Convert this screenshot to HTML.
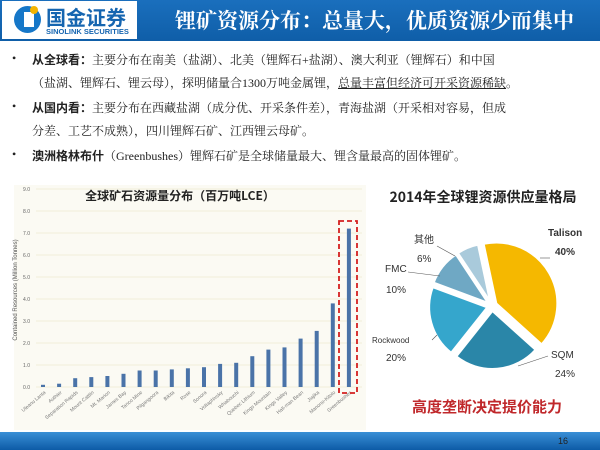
<!DOCTYPE html>
<html><head><meta charset="utf-8"><style>
body{margin:0;width:600px;height:450px;overflow:hidden;background:#fff;font-family:"Liberation Sans","Noto Sans CJK SC",sans-serif;position:relative}
.hdr{position:absolute;left:0;top:0;width:600px;height:41px;background:linear-gradient(#1a6fbd,#0f5ea8)}
.logo{position:absolute;left:2px;top:1px;width:135px;height:38px;background:#fff}
.t{position:absolute;font-family:"Liberation Serif","Noto Serif CJK SC",serif;font-size:12px;color:#222;white-space:nowrap}
.t b{font-family:"Noto Sans CJK SC",sans-serif}
</style></head><body>
<div class="hdr"></div>
<div class="logo">
<div style="position:absolute;left:12px;top:5px;width:27px;height:27px;border-radius:50%;background:#1677c8"></div>
<div style="position:absolute;left:22px;top:11px;width:10px;height:15px;background:#fff"></div>
<div style="position:absolute;left:28px;top:5px;width:8px;height:8px;border-radius:50%;background:#f4b400"></div>
<div style="position:absolute;left:44px;top:1px;font:bold 20px 'Noto Sans CJK SC',sans-serif;color:#1565b0">国金证券</div>
<div style="position:absolute;left:44px;top:26px;font:bold 7.5px 'Liberation Sans',sans-serif;color:#1565b0">SINOLINK SECURITIES</div>
</div>
<div style="position:absolute;left:175px;top:5px;font:bold 21px 'Noto Serif CJK SC',serif;color:#fff;white-space:nowrap">锂矿资源分布：总量大，优质资源少而集中</div>
<div class="t" style="left:12px;top:51px">•</div>
<div class="t" style="left:32px;top:51px"><b>从全球看：</b>主要分布在南美（盐湖）、北美（锂辉石+盐湖）、澳大利亚（锂辉石）和中国</div>
<div class="t" style="left:32px;top:74px">（盐湖、锂辉石、锂云母），探明储量合1300万吨金属锂，<u>总量丰富但经济可开采资源稀缺</u>。</div>
<div class="t" style="left:12px;top:99px">•</div>
<div class="t" style="left:32px;top:99px"><b>从国内看：</b>主要分布在西藏盐湖（成分优、开采条件差），青海盐湖（开采相对容易，但成</div>
<div class="t" style="left:32px;top:122px">分差、工艺不成熟），四川锂辉石矿、江西锂云母矿。</div>
<div class="t" style="left:12px;top:147px">•</div>
<div class="t" style="left:32px;top:147px"><b>澳洲格林布什</b>（Greenbushes）锂辉石矿是全球储量最大、锂含量最高的固体锂矿。</div>
<svg style="position:absolute;left:0;top:0" width="600" height="450">
<rect x="14" y="185" width="352" height="245" fill="#fbfaf3"/>
<g stroke="#e6dfc0" stroke-width="0.6">
<line x1="36" x2="362" y1="189" y2="189"/><line x1="36" x2="362" y1="211" y2="211"/><line x1="36" x2="362" y1="233" y2="233"/><line x1="36" x2="362" y1="255" y2="255"/><line x1="36" x2="362" y1="277" y2="277"/><line x1="36" x2="362" y1="299" y2="299"/><line x1="36" x2="362" y1="321" y2="321"/><line x1="36" x2="362" y1="343" y2="343"/><line x1="36" x2="362" y1="365" y2="365"/><line x1="36" x2="362" y1="387" y2="387"/>
</g>
<g font-size="5" fill="#666" text-anchor="end"><text x="30" y="191">9.0</text><text x="30" y="213">8.0</text><text x="30" y="235">7.0</text><text x="30" y="257">6.0</text><text x="30" y="279">5.0</text><text x="30" y="301">4.0</text><text x="30" y="323">3.0</text><text x="30" y="345">2.0</text><text x="30" y="367">1.0</text><text x="30" y="389">0.0</text></g>
<text transform="translate(17,290) rotate(-90)" font-size="6" fill="#555" text-anchor="middle">Contained Resources (Million Tonnes)</text>
<text x="180" y="200" font-size="12" font-weight="bold" text-anchor="middle" font-family="Noto Sans CJK SC,sans-serif" fill="#222">全球矿石资源量分布（百万吨LCE）</text>
<g fill="#4a73a8" id="bars"></g>
<g id="lbl" font-size="5" fill="#777"></g>
<rect x="339" y="221" width="18" height="172" fill="none" stroke="#d42020" stroke-width="1.8" stroke-dasharray="5,3"/>
<text x="483" y="202" font-size="14" font-weight="bold" text-anchor="middle" font-family="Noto Sans CJK SC,sans-serif" fill="#222">2014年全球锂资源供应量格局</text>
<g id="pie"></g>
<g font-size="10" fill="#333" font-family="Liberation Sans,Noto Sans CJK SC,sans-serif">
<text x="548" y="236" font-weight="bold">Talison</text><text x="555" y="255" font-weight="bold">40%</text>
<text x="551" y="358">SQM</text><text x="555" y="377">24%</text>
<text x="372" y="343" font-size="8">Rockwood</text><text x="386" y="361">20%</text>
<text x="385" y="272">FMC</text><text x="386" y="293">10%</text>
<text x="414" y="243">其他</text><text x="417" y="262">6%</text>
</g>
<g stroke="#555" stroke-width="0.6" fill="none"><polyline points="540,258 550,258"/><polyline points="518,366 548,356"/><polyline points="432,340 437,335"/><polyline points="408,272 440,276"/><polyline points="437,246 455,256"/></g>
<text x="487" y="412" font-size="15" font-weight="bold" text-anchor="middle" font-family="Noto Sans CJK SC,sans-serif" fill="#c0282b">高度垄断决定提价能力</text>
<defs><linearGradient id="bb" x1="0" y1="0" x2="0" y2="1"><stop offset="0" stop-color="#3a8fd6"/><stop offset="1" stop-color="#0d5ba6"/></linearGradient></defs>
<rect x="0" y="432" width="600" height="18" fill="url(#bb)"/>
<text x="558" y="444" font-size="9" fill="#222">16</text>
</svg>
<script>
var v=[0.1,0.15,0.4,0.45,0.5,0.6,0.75,0.75,0.8,0.85,0.9,1.05,1.1,1.4,1.7,1.8,2.2,2.55,3.8,7.2];
var n=["Uleanu Lanta","Authier","Separation Rapids","Mount Cattlin","Mt. Marion","James Bay","Tanco Mine","Pilgangoora","Bikita","Rose","Sonora","Voltaphivsky","Whabouchi","Quebec Lithium","Kings Mountain","Kings Valley","Hall-man Bean","Jiajika","Manono-Kitolo","Greenbushes"];
var s="",l="";
for(var i=0;i<20;i++){var x=43+i*16.1,h=v[i]*22;s+='<rect x="'+(x-2)+'" y="'+(387-h)+'" width="4" height="'+h+'"/>';
l+='<text transform="translate('+(x+3)+',393) rotate(-40)" text-anchor="end">'+n[i]+'</text>';}
document.getElementById('bars').innerHTML=s;document.getElementById('lbl').innerHTML=l;
var cx=492,cy=306,r=58,sl=[[40,"#f5b800"],[24,"#2a86a8"],[20,"#35a6cc"],[10,"#6fa8c4"],[6,"#a9cadb"]],a=-12,p="";
for(var j=0;j<5;j++){var d=sl[j][0]*3.6,m=(a+d/2)*Math.PI/180,ox=5*Math.sin(m),oy=-5*Math.cos(m),rr=j==0?r+3:r;
var a1=a*Math.PI/180,a2=(a+d)*Math.PI/180;
p+='<path d="M'+(cx+ox)+','+(cy+oy)+' L'+(cx+ox+rr*Math.sin(a1))+','+(cy+oy-rr*Math.cos(a1))+' A'+rr+','+rr+' 0 '+(d>180?1:0)+' 1 '+(cx+ox+rr*Math.sin(a2))+','+(cy+oy-rr*Math.cos(a2))+' Z" fill="'+sl[j][1]+'" stroke="#fff" stroke-width="2"/>';a+=d;}
document.getElementById('pie').innerHTML=p;
</script>
</body></html>
